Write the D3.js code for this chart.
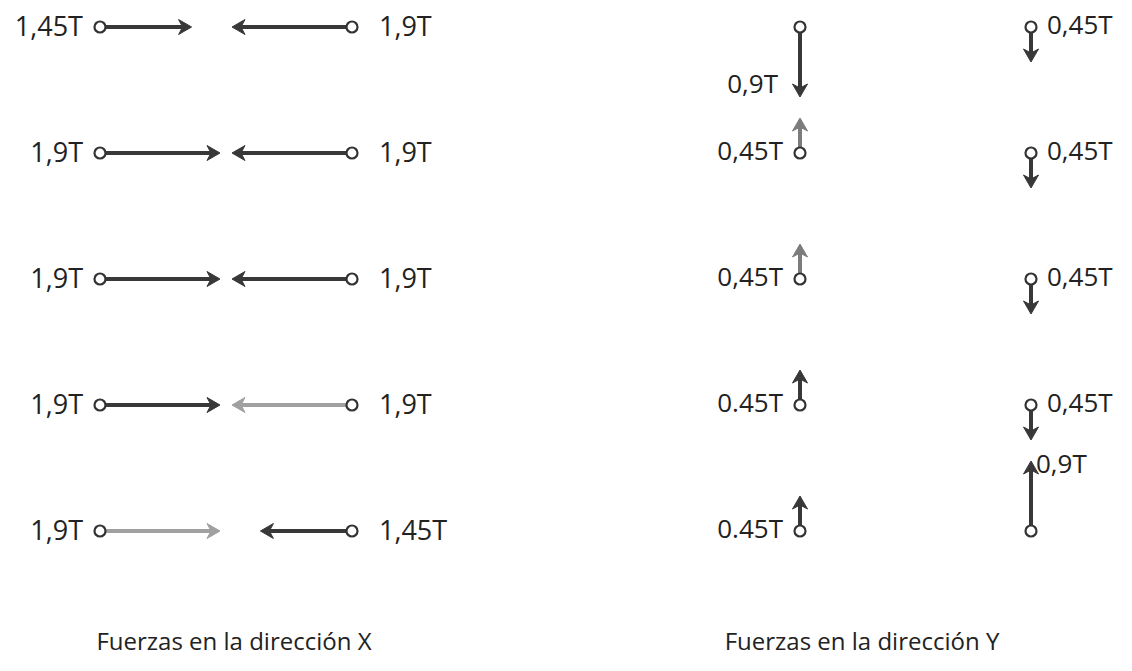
<!DOCTYPE html>
<html>
<head>
<meta charset="utf-8">
<script src="https://cdn.jsdelivr.net/npm/d3@7"></script>
<style>
  body { margin: 0; background: #fff; }
  text { font-family: 'Open Sans', sans-serif; fill: #222; }
</style>
</head>
<body>
<div id="chart"></div>
<script>
// Forces in the X direction (tons), one row per level, top to bottom
const xLeftForces = [1.45, 1.9, 1.9, 1.9, 1.9];
const xRightForces = [1.9, 1.9, 1.9, 1.9, 1.45];
const xLeftLabels = ['1,45T', '1,9T', '1,9T', '1,9T', '1,9T'];
const xRightLabels = ['1,9T', '1,9T', '1,9T', '1,9T', '1,45T'];

// Forces in the Y direction (tons), positive = up, negative = down
const yLeftForces = [-0.9, 0.45, 0.45, 0.45, 0.45];
const yRightForces = [-0.45, -0.45, -0.45, -0.45, 0.9];
const yLeftLabels = ['0,9T', '0,45T', '0,45T', '0.45T', '0.45T'];
const yRightLabels = ['0,45T', '0,45T', '0,45T', '0,45T', '0,9T'];

const titles = ['Fuerzas en la dirección X', 'Fuerzas en la dirección Y'];

// Scanned look: some arrows came out lighter
const dark = '#383838';
const light = '#a0a0a0';
const mid = '#7c7c7c';
const xLeftColors = [dark, dark, dark, dark, light];
const xRightColors = [dark, dark, dark, light, dark];
const yLeftColors = [dark, mid, mid, dark, dark];
const yRightColors = [dark, dark, dark, dark, dark];

const width = 1132;
const height = 671;

const svg = d3.select('#chart').append('svg')
    .attr('width', width)
    .attr('height', height);

svg.append('rect').attr('width', width).attr('height', height).attr('fill', '#fff');

const rows = d3.range(5);
const rowY = d3.scalePoint().domain(rows).range([27, 531]);

// Arrow length scales (each panel drawn at its own scale)
const xLen = d3.scaleLinear().domain([0, 1.9]).range([0, 120]);
const yLen = d3.scaleLinear().domain([0, 0.9]).range([0, 70]);

const nodeR = 5.5;

function drawArrow(g, x1, y1, x2, y2, color) {
    const dx = x2 - x1, dy = y2 - y1;
    const len = Math.hypot(dx, dy);
    const ux = dx / len, uy = dy / len;
    const head = 13, half = 7.5;
    const bx = x2 - ux * head, by = y2 - uy * head;
    g.append('line')
        .attr('x1', x1 + ux * nodeR).attr('y1', y1 + uy * nodeR)
        .attr('x2', bx + ux * 4).attr('y2', by + uy * 4)
        .attr('stroke', color)
        .attr('stroke-width', 4);
    g.append('path')
        .attr('d', `M${x2},${y2}L${bx - uy * half},${by + ux * half}L${bx + ux * 4},${by + uy * 4}L${bx + uy * half},${by - ux * half}Z`)
        .attr('fill', color)
        .attr('stroke', color)
        .attr('stroke-width', 1)
        .attr('stroke-linejoin', 'round');
}

function drawNode(g, x, y) {
    g.append('circle')
        .attr('cx', x).attr('cy', y).attr('r', nodeR)
        .attr('fill', '#fff')
        .attr('stroke', '#333')
        .attr('stroke-width', 2.2);
}

// ---- X direction panel ----
const gx = svg.append('g');
const xLeftNode = 100, xRightNode = 352;

rows.forEach(i => {
    const y = rowY(i);
    drawArrow(gx, xLeftNode, y, xLeftNode + xLen(xLeftForces[i]), y, xLeftColors[i]);
    drawArrow(gx, xRightNode, y, xRightNode - xLen(xRightForces[i]), y, xRightColors[i]);
    drawNode(gx, xLeftNode, y);
    drawNode(gx, xRightNode, y);
    gx.append('text')
        .attr('x', xLeftNode - 17).attr('y', y + 9)
        .attr('text-anchor', 'end')
        .attr('font-size', 27)
        .text(xLeftLabels[i]);
    gx.append('text')
        .attr('x', xRightNode + 27).attr('y', y + 9)
        .attr('font-size', 27)
        .text(xRightLabels[i]);
});

// ---- Y direction panel ----
const gy = svg.append('g');
const yLeftNode = 800, yRightNode = 1031;

function drawVertical(x, i, force, label, color, side) {
    const y = rowY(i);
    const tipY = y - yLen(force);
    drawArrow(gy, x, y, x, tipY, color);
    drawNode(gy, x, y);
    const big = Math.abs(force) >= 0.9;
    const t = gy.append('text').attr('font-size', 26).text(label);
    if (side === 'left') {
        t.attr('text-anchor', 'end')
            .attr('x', big ? x - 22 : x - 17)
            .attr('y', big ? tipY - 4 : y + 7);
    } else {
        t.attr('x', big ? x + 5 : x + 16)
            .attr('y', big ? tipY + 12 : y + 7);
    }
}

rows.forEach(i => {
    drawVertical(yLeftNode, i, yLeftForces[i], yLeftLabels[i], yLeftColors[i], 'left');
    drawVertical(yRightNode, i, yRightForces[i], yRightLabels[i], yRightColors[i], 'right');
});

// Panel titles
svg.selectAll('.title')
    .data(titles)
    .enter()
    .append('text')
    .attr('class', 'title')
    .attr('x', (d, i) => i === 0 ? 234 : 862)
    .attr('y', 650)
    .attr('text-anchor', 'middle')
    .attr('font-size', 24)
    .text(d => d);
</script>
</body>
</html>
